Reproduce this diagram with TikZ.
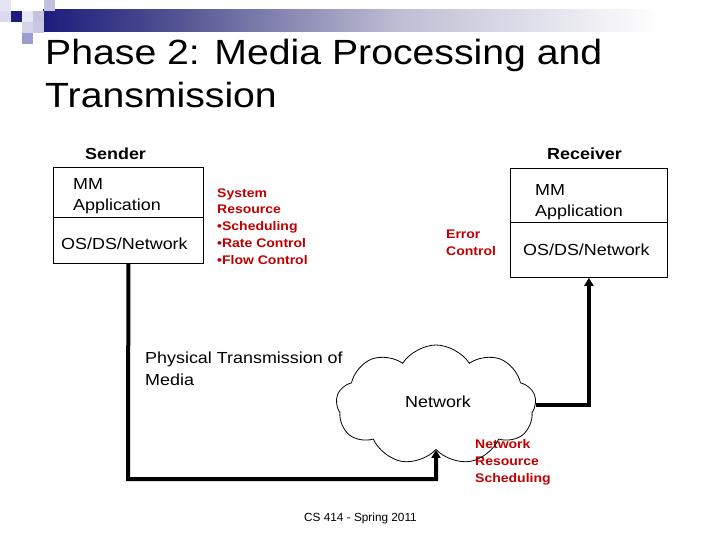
\documentclass[tikz,border=0pt]{standalone}
\usepackage{fontspec}
\setmainfont{Liberation Sans}[FakeStretch=1.12]
\newfontfamily\plainsans{Liberation Sans}
\usetikzlibrary{shapes.symbols,arrows.meta}
\definecolor{darkred}{RGB}{192,0,0}
\definecolor{navy}{RGB}{28,28,125}
\definecolor{midnavy}{RGB}{80,80,145}
\definecolor{paleband}{RGB}{190,190,212}
\tikzset{
  box/.style={draw, line width=0.8pt, inner sep=0pt, anchor=north west},
  txt/.style={anchor=base west, inner sep=0pt, font=\fontsize{16}{19}\selectfont},
  lbl/.style={anchor=base west, inner sep=0pt, font=\bfseries\fontsize{16}{19}\selectfont},
  ttl/.style={anchor=base west, inner sep=0pt, font=\fontsize{35}{40}\selectfont},
  redtxt/.style={anchor=base west, inner sep=0pt, text=darkred, font=\bfseries\fontsize{12.5}{15}\selectfont},
  conn/.style={line width=4pt, -{Triangle[width=9pt,length=8pt]}},
  sq/.style={draw=none, minimum size=11pt, inner sep=0pt, anchor=north west}
}
\begin{document}
\begin{tikzpicture}[x=1pt,y=-1pt]
\useasboundingbox (0,0) rectangle (720,540);
\fill[white] (0,0) rectangle (720,540);
% decorative logo
\shade[left color=navy, right color=midnavy] (43,10) rectangle (170,32);
\shade[left color=midnavy, right color=paleband] (170,10) rectangle (400,32);
\shade[left color=paleband, right color=white] (400,10) rectangle (660,32);
\node[sq, fill={rgb,255:red,228;green,228;blue,242}] (q1) at (0,0) {};
\node[sq, fill={rgb,255:red,218;green,218;blue,238}] (q2) at (0,11) {};
\node[sq, fill=navy] (q3) at (11,11) {};
\node[sq, fill={rgb,255:red,232;green,232;blue,244}] (q4) at (22,11) {};
\node[sq, fill={rgb,255:red,196;green,196;blue,226}] (q5) at (33,11) {};
\node[sq, fill={rgb,255:red,192;green,192;blue,224}] (q6) at (44,0) {};
\node[sq, fill={rgb,255:red,212;green,212;blue,234}] (q7) at (22,22) {};
\node[sq, fill={rgb,255:red,200;green,200;blue,228}] (q8) at (33,22) {};
\node[sq, fill={rgb,255:red,156;green,156;blue,206}] (q9) at (22,33) {};
% title
\node[ttl] (t1) at (45,65) {Phase 2: Media Processing and};
\node[ttl] (t2) at (45,108) {Transmission};
% labels
\node[lbl] (slbl) at (85,160) {Sender};
\node[lbl] (rlbl) at (547,160) {Receiver};
% sender boxes
\node[box, minimum width=150pt, minimum height=50pt] (sapp) at (53,167) {};
\node[box, minimum width=150pt, minimum height=46pt] (sos) at (53,217) {};
\node[txt] (s1) at (73,189.5) {MM};
\node[txt] (s2) at (73,211) {Application};
\node[txt] (s3) at (61,249) {OS/DS/Network};
% receiver boxes
\node[box, minimum width=157pt, minimum height=54pt] (rapp) at (510,168) {};
\node[box, minimum width=157pt, minimum height=55pt] (ros) at (510,222) {};
\node[txt] (r1) at (535,195.5) {MM};
\node[txt] (r2) at (535,217) {Application};
\node[txt] (r3) at (523,255) {OS/DS/Network};
% red texts
\node[redtxt] (a1) at (217,197.3) {System};
\node[redtxt] (a2) at (217,214) {Resource};
\node[redtxt] (a3) at (217,230.7) {\textbullet Scheduling};
\node[redtxt] (a4) at (217,247.3) {\textbullet Rate Control};
\node[redtxt] (a5) at (217,264) {\textbullet Flow Control};
\node[redtxt] (e1) at (446,238.3) {Error};
\node[redtxt] (e2) at (446,255) {Control};
\node[redtxt] (n1) at (475,448.5) {Network};
\node[redtxt] (n2) at (475,465.5) {Resource};
\node[redtxt] (n3) at (475,482.5) {Scheduling};
% physical transmission
\node[txt] (p1) at (145,363.5) {Physical Transmission of};
\node[txt] (p2) at (145,385.5) {Media};
% cloud
\node[cloud, draw, line width=0.8pt, cloud puffs=9, cloud puff arc=115, aspect=1.65,
      minimum width=200pt, minimum height=120pt, inner sep=0pt] (net) at (436,405) {};
\node[txt] (nt) at (405,407) {Network};
% connectors
\coordinate (lc) at (128,479);
\draw[conn] (sos.south) -- (lc) -| (net.south);
\draw[conn] (net.east) -| (ros.south);
% footer
\node[anchor=base west, inner sep=0pt, font=\plainsans\fontsize{11.8}{14}\selectfont] (foot) at (304,521) {CS 414 - Spring 2011};
\end{tikzpicture}
\end{document}
